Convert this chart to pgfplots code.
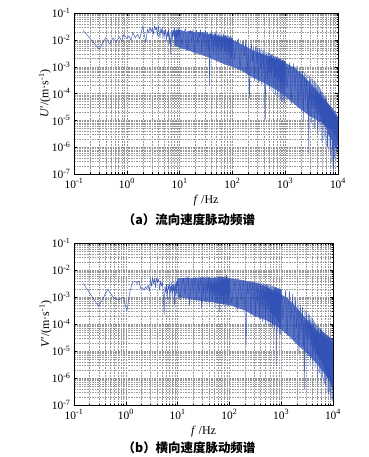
\documentclass[border=0pt]{standalone}
\usepackage{fontspec}
\setmainfont{Liberation Serif}
\newfontfamily\cjk{Noto Sans CJK SC}
\usepackage{pgfplots}
\pgfplotsset{compat=1.18}
\definecolor{lineblue}{RGB}{48,80,182}
\pgfplotsset{log number format basis/.code 2 args={#1\textsuperscript{\pgfmathprintnumber{#2}}}}
\begin{document}
\begin{tikzpicture}
\path[use as bounding box] (0bp,0bp) rectangle (369bp,457bp);
% ---------------- (a) ----------------
\begin{axis}[xmode=log, ymode=log,
    scale only axis, width=264bp, height=161bp, at={(74bp,283bp)}, anchor=south west,
    xmin=0.1, xmax=1e4, ymin=1e-7, ymax=1e-1,
    grid=both,
    major grid style={gray!85, line width=0.3pt, dash pattern=on 1.6pt off 1pt},
    minor grid style={gray!80, line width=0.3pt, dash pattern=on 1.6pt off 1pt},
    axis line style={black, line width=0.4pt},
    major tick length=3bp, minor tick length=1.5bp,
    tick style={black, line width=0.3pt},
    /pgf/number format/assume math mode=true,
    tick label style={font=\fontsize{11.5}{13}\selectfont},
    xticklabel style={yshift=-1bp},
    label style={font=\fontsize{12}{14}\selectfont},
    xlabel={\textit{f} /Hz},
    xlabel style={at={(axis description cs:0.5,-0.165)}, anchor=center},
    ylabel style={at={(axis description cs:-0.11,0.5)}, anchor=center},
    ylabel={\textit{U}′/(m·s\textsuperscript{-1})}]
\addplot[fill=lineblue, fill opacity=0.78, draw=none] coordinates {
(8,2.2e-2)(10,2.4e-2)(13,2e-2)(16,2.2e-2)(20,1.9e-2)(25,2e-2)(30,1.78e-2)(40,1.58e-2)(50,1.41e-2)(60,1.26e-2)
(80,1.12e-2)(100,1e-2)(130,7.9e-3)(160,6.3e-3)(200,5e-3)(250,4e-3)(300,3.5e-3)(400,2.8e-3)(500,2.4e-3)(600,2.1e-3)
(800,1.66e-3)(1000,1.41e-3)(1300,1.05e-3)(1600,7.9e-4)(2000,5.6e-4)(2500,3.5e-4)(3000,2.4e-4)(3500,1.66e-4)(4000,1.26e-4)(5000,7.9e-5)
(6000,5e-5)(7000,3.5e-5)(8000,2.8e-5)(9000,2e-5)(10000,1.41e-5)
(10000,1.26e-6)(9000,2.5e-6)(8000,4e-6)(7000,5e-6)(6000,6.3e-6)(5000,7.9e-6)(4000,1e-5)(3000,1.41e-5)(2000,2.5e-5)(1500,4e-5)
(1000,7.9e-5)(800,1.12e-4)(600,1.58e-4)(400,2.5e-4)(300,3.2e-4)(200,5e-4)(150,7.1e-4)(100,1e-3)(80,1.12e-3)(60,1.41e-3)
(40,2e-3)(30,2.5e-3)(20,3.2e-3)(15,4e-3)(10,5e-3)(8,6.3e-3)
} -- cycle;
\addplot[lineblue, line width=0.5pt, opacity=0.9, line join=round, mark=none] coordinates {
(0.15,2.2e-2)(0.30,4.5e-3)(0.40,1.2e-2)(0.48,7e-3)(0.55,1.2e-2)(0.63,8e-3)(0.72,1.3e-2)(0.80,9e-3)(0.88,1.6e-2)(1.0,1.1e-2)
(1.1,1.4e-2)(1.2,9.5e-3)(1.3,1.9e-2)(1.45,1.2e-2)(1.6,1.6e-2)(1.75,1.1e-2)(1.9,2.1e-2)(2.0,3.2e-2)(2.15,1.5e-2)(2.3,8e-3)
(2.45,2.5e-2)(2.6,1.8e-2)(2.75,3e-2)(2.9,2e-2)(3.05,2.8e-2)(3.2,1.6e-2)(3.35,3.3e-2)(3.5,2.4e-2)(3.65,2.9e-2)(3.8,1.4e-2)
(3.95,3.4e-2)(4.1,2e-2)(4.25,1.2e-2)(4.4,2.6e-2)(4.55,1.8e-2)(4.7,2.9e-2)(4.85,1.1e-2)(5.0,2.2e-2)(5.2,1.5e-2)(5.4,2.5e-2)
(5.6,9e-3)(5.8,2.1e-2)(6.0,1.3e-2)(6.2,2.6e-2)(6.4,7e-3)(6.6,1.9e-2)(6.8,3e-3)(7.0,1.6e-2)(7.2,2.3e-2)(7.4,1e-2)
(7.6,2.4e-2)(7.8,1.4e-2)(8.0,2.8e-2)(8.2,6e-3)(8.4,2e-2)(8.6,1.2e-2)(8.8,2.5e-2)(9.0,8e-3)(9.2,2.2e-2)(9.4,1.5e-2)
(9.6,2.7e-2)(9.8,1e-2)
(10,2.4e-2)(11,6e-3)(12,1.8e-2)(13,2.6e-2)(14,4e-3)(15,1.5e-2)(16,2.2e-2)(17,8e-3)(18,2.5e-2)(19,3e-3)
(20,1.6e-2)(21,2.3e-2)(22,7e-3)(23,1.9e-2)(24,1.2e-2)(25,2.4e-2)(26,3.5e-3)(27,1.4e-2)(28,2e-2)(29,6e-3)
(30,1.7e-2)(31,2.2e-2)(32,5e-3)(33,1.3e-2)(34,1.9e-2)(35,4e-3)(36,1.5e-2)(37,2e-4)(38,1.8e-2)(39,1.1e-2)
(40,2.1e-2)(41,5e-3)(42,1.4e-2)(43,1.9e-2)(44,3e-3)(45,1.2e-2)(46,1.7e-2)(47,6e-3)(48,2e-2)(49,2.5e-3)
(50,1.3e-2)(51,1.8e-2)(52,5e-3)(53,1.1e-2)(54,1.6e-2)(55,2e-3)(56,1.4e-2)(57,9e-3)(58,1.8e-2)(59,4e-3)
(60,1.2e-2)(61,1.6e-2)(62,3e-3)(63,1e-2)(64,1.5e-2)(65,5e-3)(66,1.3e-2)(67,8e-3)(68,1.7e-2)(69,2e-3)
(70,1.1e-2)(71,1.4e-2)(72,4e-3)(73,9e-3)(74,1.5e-2)(75,3e-3)(76,1.2e-2)(77,7e-3)(78,1.4e-2)(79,1.5e-3)
(80,1e-2)(81,1.3e-2)(82,4e-3)(83,8e-3)(84,1.4e-2)(85,2.5e-3)(86,1.1e-2)(87,6e-3)(88,1.3e-2)(89,1.2e-3)
(90,9e-3)(91,1.2e-2)(92,3e-3)(93,7e-3)(94,1.3e-2)(95,2e-3)(96,1e-2)(97,5e-3)(98,1.2e-2)(99,1e-3)
(100,1.2e-2)(110,2e-3)(120,8e-3)(130,1.1e-2)(140,7e-4)(150,6e-3)(160,9e-3)(170,2.5e-3)(180,1e-2)(190,5e-4)
(200,6e-3)(210,6.5e-5)(220,4e-3)(230,7e-3)(240,1.5e-3)(250,5.5e-3)(260,3e-4)(270,4e-3)(280,6e-3)(290,1.2e-3)
(300,5e-3)(310,2.5e-4)(320,3e-3)(330,5e-3)(340,9e-4)(350,4.5e-3)(360,2e-4)(370,2.5e-3)(380,4.2e-3)(390,8e-4)
(400,3.8e-3)(410,1.5e-4)(420,1.1e-5)(430,3.6e-3)(440,1.2e-3)(450,3.3e-3)(460,2e-4)(470,2e-3)(480,3.5e-3)(490,6e-4)
(500,3.2e-3)(510,1.4e-4)(520,1.8e-3)(530,3e-3)(540,5e-4)(550,2.8e-3)(560,1.2e-4)(570,1.5e-3)(580,2.9e-3)(590,7e-4)
(600,2.6e-3)(610,1e-4)(620,1.2e-3)(630,2.5e-3)(640,4e-4)(650,2.4e-3)(660,9e-5)(670,1.1e-3)(680,2.3e-3)(690,5e-4)
(700,2.2e-3)(710,8e-5)(720,1e-3)(730,2.2e-3)(740,3.5e-4)(750,2e-3)(760,7e-5)(770,9e-4)(780,2e-3)(790,4e-4)
(800,1.9e-3)(810,6e-5)(820,8e-4)(830,1.9e-3)(840,3e-4)(850,1.8e-3)(860,5e-5)(870,7e-4)(880,1.8e-3)(890,2.5e-4)
(900,1.7e-3)(910,5e-5)(920,6e-4)(930,1.7e-3)(940,2e-4)(950,1.6e-3)(960,4.5e-5)(970,5e-4)(980,1.6e-3)(990,2e-4)
(1000,1.7e-3)(1075,1.5e-4)(1150,6e-4)(1225,1.5e-3)(1300,4e-5)(1375,4.5e-4)(1450,1.3e-3)(1525,1.2e-4)(1600,5e-4)(1675,1.1e-3)
(1750,3e-5)(1825,3.5e-4)(1900,8e-4)(1975,8e-5)(2050,2.5e-4)(2125,7e-4)(2200,1e-5)(2275,2e-4)(2350,6e-4)(2425,6e-5)
(2500,1.8e-4)(2575,5.5e-4)(2650,2e-5)(2725,1.5e-4)(2800,6e-7)(2875,4.5e-4)(2950,5e-5)(3025,1.2e-4)(3100,4e-4)(3175,8e-6)
(3250,1e-4)(3325,3.5e-4)(3400,3e-5)(3475,9e-5)(3550,3e-4)(3625,5e-6)(3700,8e-5)(3775,2.6e-4)(3850,2e-5)(3925,7e-5)
(4000,2.3e-4)(4075,3e-6)(4150,6e-5)(4225,2e-4)(4300,1.5e-5)(4375,5e-5)(4450,1.7e-4)(4525,4e-6)(4600,4.5e-5)(4675,1.5e-4)
(4750,1e-5)(4825,4e-5)(4900,1.2e-4)(4975,1.5e-6)(5050,3.5e-5)(5125,1.1e-4)(5200,8e-6)(5275,3e-5)(5350,9e-5)(5425,2e-6)
(5500,2.5e-5)(5575,8e-5)(5650,6e-6)(5725,2.2e-5)(5800,7e-5)(5875,1.2e-6)(5950,2e-5)(6025,6e-5)(6100,5e-6)(6175,1.7e-5)
(6250,5e-5)(6325,1e-6)(6400,1.5e-5)(6475,4.5e-5)(6550,3e-6)(6625,1.3e-5)(6700,4e-5)(6775,8e-7)(6850,1.1e-5)(6925,3.5e-5)
(7000,2.5e-6)(7075,1e-5)(7150,3e-5)(7225,5e-7)(7300,9e-6)(7375,2.8e-5)(7450,2e-6)(7525,8e-6)(7600,2.5e-5)(7675,3e-7)
(7750,7e-6)(7825,2.2e-5)(7900,1.5e-6)(7975,6e-6)(8050,1e-7)(8125,2e-5)(8200,5e-6)(8275,1.5e-7)(8350,1.8e-5)(8425,1.2e-6)
(8500,5e-6)(8575,1.7e-5)(8650,4e-7)(8725,4.5e-6)(8800,1.6e-5)(8875,1e-6)(8950,4e-6)(9025,1.5e-5)(9100,3e-7)(9175,4e-6)
(9250,1.4e-5)(9325,8e-7)(9400,4e-6)(9475,1.3e-5)(9550,6e-7)(9625,5e-6)(9700,1.3e-5)(9775,1e-6)(9850,4.5e-6)(9925,1.2e-5)
(10000,5e-6)
};
\end{axis}
\node[font=\cjk\bfseries\fontsize{12.5}{14}\selectfont] at (189bp,237bp) {（a）流向速度脉动频谱};
% ---------------- (b) ----------------
\begin{axis}[xmode=log, ymode=log,
    scale only axis, width=259bp, height=162bp, at={(74bp,52bp)}, anchor=south west,
    xmin=0.1, xmax=1e4, ymin=1e-7, ymax=1e-1,
    grid=both,
    major grid style={gray!85, line width=0.3pt, dash pattern=on 1.6pt off 1pt},
    minor grid style={gray!80, line width=0.3pt, dash pattern=on 1.6pt off 1pt},
    axis line style={black, line width=0.4pt},
    major tick length=3bp, minor tick length=1.5bp,
    tick style={black, line width=0.3pt},
    /pgf/number format/assume math mode=true,
    tick label style={font=\fontsize{11.5}{13}\selectfont},
    xticklabel style={yshift=-1bp},
    label style={font=\fontsize{12}{14}\selectfont},
    xlabel={\textit{f} /Hz},
    xlabel style={at={(axis description cs:0.5,-0.165)}, anchor=center},
    ylabel style={at={(axis description cs:-0.11,0.5)}, anchor=center},
    ylabel={\textit{V}′/(m·s\textsuperscript{-1})}]
\addplot[fill=lineblue, fill opacity=0.78, draw=none] coordinates {
(10,5e-3)(15,5.2e-3)(20,5e-3)(30,5.4e-3)(50,5.2e-3)(70,5.6e-3)(100,5e-3)(150,4.5e-3)(200,4e-3)(300,3.5e-3)
(400,3e-3)(500,2.5e-3)(700,1.78e-3)(1000,1.26e-3)(1300,8.9e-4)(1600,6.3e-4)(2000,4e-4)(2500,2.4e-4)(3000,1.58e-4)(4000,8.9e-5)
(5000,5.6e-5)(6000,4e-5)(7000,3.2e-5)(8000,2.6e-5)(10000,2e-5)
(10000,5e-7)(8000,1e-6)(6000,2e-6)(5000,3.2e-6)(4000,5e-6)(3000,8.9e-6)(2000,1.78e-5)(1500,3.2e-5)(1000,6.3e-5)(700,1e-4)
(500,1.41e-4)(300,2e-4)(200,3.2e-4)(100,5e-4)(70,5.6e-4)(50,6.3e-4)(30,7.1e-4)(20,7.9e-4)(15,8.9e-4)(10,1e-3)
} -- cycle;
\addplot[lineblue, line width=0.5pt, opacity=0.9, line join=round, mark=none] coordinates {
(0.15,3.2e-3)(0.30,4.5e-4)(0.45,1.9e-3)(0.60,8.5e-4)(0.75,8e-4)(0.90,1e-3)(1.05,3e-4)(1.2,1.6e-3)(1.35,3.5e-3)(1.5,3.8e-3)
(1.65,3.2e-3)(1.8,4e-3)(1.95,2e-3)(2.1,2.2e-3)(2.25,1.8e-3)(2.4,2.4e-3)(2.55,2e-3)(2.7,2.8e-3)(2.85,1.6e-3)(3.0,4.5e-3)
(3.15,2.5e-3)(3.3,5.5e-3)(3.45,3e-3)(3.6,4.8e-3)(3.75,2.2e-3)(3.9,5e-3)(4.1,3.4e-3)(4.3,4.6e-3)(4.5,1.8e-3)(4.7,4e-3)
(4.9,2.6e-3)(5.1,3.5e-3)(5.3,1.2e-3)(5.5,2.2e-4)(5.7,2.5e-3)(5.9,1.5e-3)(6.1,3e-3)(6.3,8e-4)(6.5,2.7e-3)(6.7,1.9e-3)
(6.9,3.3e-3)(7.1,6e-4)(7.3,2.5e-3)(7.5,1.6e-3)(7.7,3.6e-3)(7.9,9e-4)(8.1,2.8e-3)(8.3,1.7e-3)(8.5,4e-3)(8.7,5e-4)
(8.9,2.4e-3)(9.1,3.2e-3)(9.3,1e-3)(9.5,3.8e-3)(9.7,1.4e-3)(9.9,3e-3)
(10,4.5e-3)(11,8e-4)(12,2.6e-3)(13,5e-3)(14,1.2e-3)(15,3e-3)(16,6e-3)(17,5e-4)(18,2.5e-3)(19,4.2e-3)
(20,1.5e-3)(21,3.5e-3)(22,5.5e-3)(23,7e-4)(24,2.2e-3)(25,4.8e-3)(26,1.3e-3)(27,3e-3)(28,5.2e-3)(29,4e-4)
(30,2.4e-3)(31,4.5e-3)(32,1e-3)(33,3.2e-3)(34,5e-3)(35,6e-4)(36,2.6e-3)(37,4.4e-3)(38,1.4e-3)(39,3e-3)
(40,5.4e-3)(41,5e-4)(42,2.2e-3)(43,4.6e-3)(44,1.1e-3)(45,2.8e-3)(46,5e-3)(47,7e-4)(48,2.5e-3)(49,4.3e-3)
(50,1.2e-3)(51,3.4e-3)(52,5.3e-3)(53,4e-4)(54,2.3e-3)(55,4.7e-3)(56,9e-4)(57,2.9e-3)(58,5.1e-3)(59,6e-4)
(60,2.4e-3)(61,4.5e-3)(62,1.2e-3)(63,3e-3)(64,5.5e-3)(65,3e-4)(66,2.5e-3)(67,4.4e-3)(68,1e-3)(69,2.7e-3)
(70,5e-3)(71,6e-4)(72,2.2e-3)(73,4.6e-3)(74,1.1e-3)(75,3.2e-3)(76,5.4e-3)(77,5e-4)(78,2.4e-3)(79,4.2e-3)
(80,9e-4)(81,2.8e-3)(82,5.6e-3)(83,4e-4)(84,2.3e-3)(85,4.5e-3)(86,1.3e-3)(87,3e-3)(88,6.5e-3)(89,5e-4)
(90,2.5e-3)(91,4.3e-3)(92,8e-4)(93,2.7e-3)(94,5e-3)(95,4.5e-4)(96,2.2e-3)(97,4.4e-3)(98,1e-3)(99,3e-3)
(100,4.2e-3)(110,6e-4)(120,2e-3)(130,4e-3)(140,3e-4)(150,1.8e-3)(160,3.8e-3)(170,8e-4)(180,2.2e-3)(190,4.2e-3)
(200,2.5e-4)(210,1.6e-5)(220,3.6e-3)(230,1.2e-3)(240,2e-3)(250,4e-3)(260,2e-4)(270,1.7e-3)(280,3.7e-3)(290,7e-4)
(300,2e-3)(310,3.8e-3)(320,1.8e-4)(330,1.5e-3)(340,3.5e-3)(350,6e-4)(360,1.9e-3)(370,3.6e-3)(380,1.5e-4)(390,1.4e-3)
(400,3.4e-3)(410,5e-4)(420,1.7e-3)(430,3.3e-3)(440,1.2e-4)(450,1.3e-3)(460,3.2e-3)(470,4e-4)(480,1.5e-3)(490,3.1e-3)
(500,1e-4)(510,1.2e-3)(520,3e-3)(530,3.5e-4)(540,1.4e-3)(550,2.9e-3)(560,9e-5)(570,1.1e-3)(580,2.8e-3)(590,3e-4)
(600,1.3e-3)(610,2.7e-3)(620,8e-5)(630,1e-3)(640,2.6e-3)(650,2.5e-4)(660,1.2e-3)(670,2.6e-3)(680,7e-5)(690,9e-4)
(700,2.5e-3)(710,2e-4)(720,1.1e-3)(730,2.4e-3)(740,6e-5)(750,8e-4)(760,2.3e-3)(770,1.8e-4)(780,1e-3)(790,2.3e-3)
(800,3e-6)(810,7e-4)(820,2.2e-3)(830,1.5e-4)(840,9e-4)(850,2.1e-3)(860,5e-5)(870,6e-4)(880,2.1e-3)(890,1.2e-4)
(900,8e-4)(910,2e-3)(920,4.5e-5)(930,6e-4)(940,2e-3)(950,1e-4)(960,7e-4)(970,1.9e-3)(980,4e-5)(990,6e-4)
(1000,2e-3)(1075,1.5e-4)(1150,6.5e-4)(1225,1.8e-3)(1300,4e-5)(1375,5e-4)(1450,1.6e-3)(1525,1e-4)(1600,4.5e-4)(1675,1.3e-3)
(1750,2.5e-5)(1825,3.5e-4)(1900,8e-4)(1975,7e-5)(2050,2.5e-4)(2125,5.5e-4)(2200,8e-6)(2275,2e-4)(2350,5e-4)(2425,5e-5)
(2500,1.7e-4)(2575,4.2e-4)(2650,1.5e-5)(2725,1.4e-4)(2800,3.8e-7)(2875,3.5e-4)(2950,4e-5)(3025,1.1e-4)(3100,2.8e-4)(3175,6e-6)
(3250,9e-5)(3325,2.5e-4)(3400,2.5e-5)(3475,8e-5)(3550,2.2e-4)(3625,3e-6)(3700,7e-5)(3775,1.9e-4)(3850,1.5e-5)(3925,6e-5)
(4000,1.6e-4)(4075,2e-6)(4150,5e-5)(4225,1.4e-4)(4300,1e-5)(4375,4e-5)(4450,1.2e-4)(4525,2.5e-6)(4600,3.5e-5)(4675,1e-4)
(4750,8e-6)(4825,3e-5)(4900,9e-5)(4975,1e-6)(5050,2.5e-5)(5125,8.5e-5)(5200,6e-6)(5275,2.2e-5)(5350,7.5e-5)(5425,1.5e-6)
(5500,2e-5)(5575,7e-5)(5650,5e-6)(5725,1.8e-5)(5800,6.5e-5)(5875,8e-7)(5950,1.6e-5)(6025,6e-5)(6100,4e-6)(6175,1.4e-5)
(6250,5.5e-5)(6325,1e-6)(6400,1.2e-5)(6475,5e-5)(6550,3e-6)(6625,1e-5)(6700,4.8e-5)(6775,6e-7)(6850,9e-6)(6925,4.5e-5)
(7000,2e-6)(7075,8e-6)(7150,4.2e-5)(7225,5e-7)(7300,7e-6)(7375,4e-5)(7450,1.5e-6)(7525,6e-6)(7600,4e-5)(7675,3e-7)
(7750,5e-6)(7825,3.8e-5)(7900,1e-6)(7975,4.5e-6)(8050,3.5e-5)(8125,2.5e-7)(8200,4e-6)(8275,3.4e-5)(8350,8e-7)(8425,3.5e-6)
(8500,3.3e-5)(8575,3e-7)(8650,3e-6)(8725,3.2e-5)(8800,6e-7)(8875,3e-6)(8950,3e-5)(9025,2e-7)(9100,2.5e-6)(9175,3e-5)
(9250,5e-7)(9325,2.5e-6)(9400,3e-5)(9475,1.5e-7)(9550,2e-6)(9625,2.8e-5)(9700,4e-7)(9775,2e-6)(9850,2.8e-5)(9925,1.4e-7)
(10000,2.5e-6)
};
\end{axis}
\node[font=\cjk\bfseries\fontsize{12.5}{14}\selectfont] at (189bp,9bp) {（b）横向速度脉动频谱};
\end{tikzpicture}
\end{document}
